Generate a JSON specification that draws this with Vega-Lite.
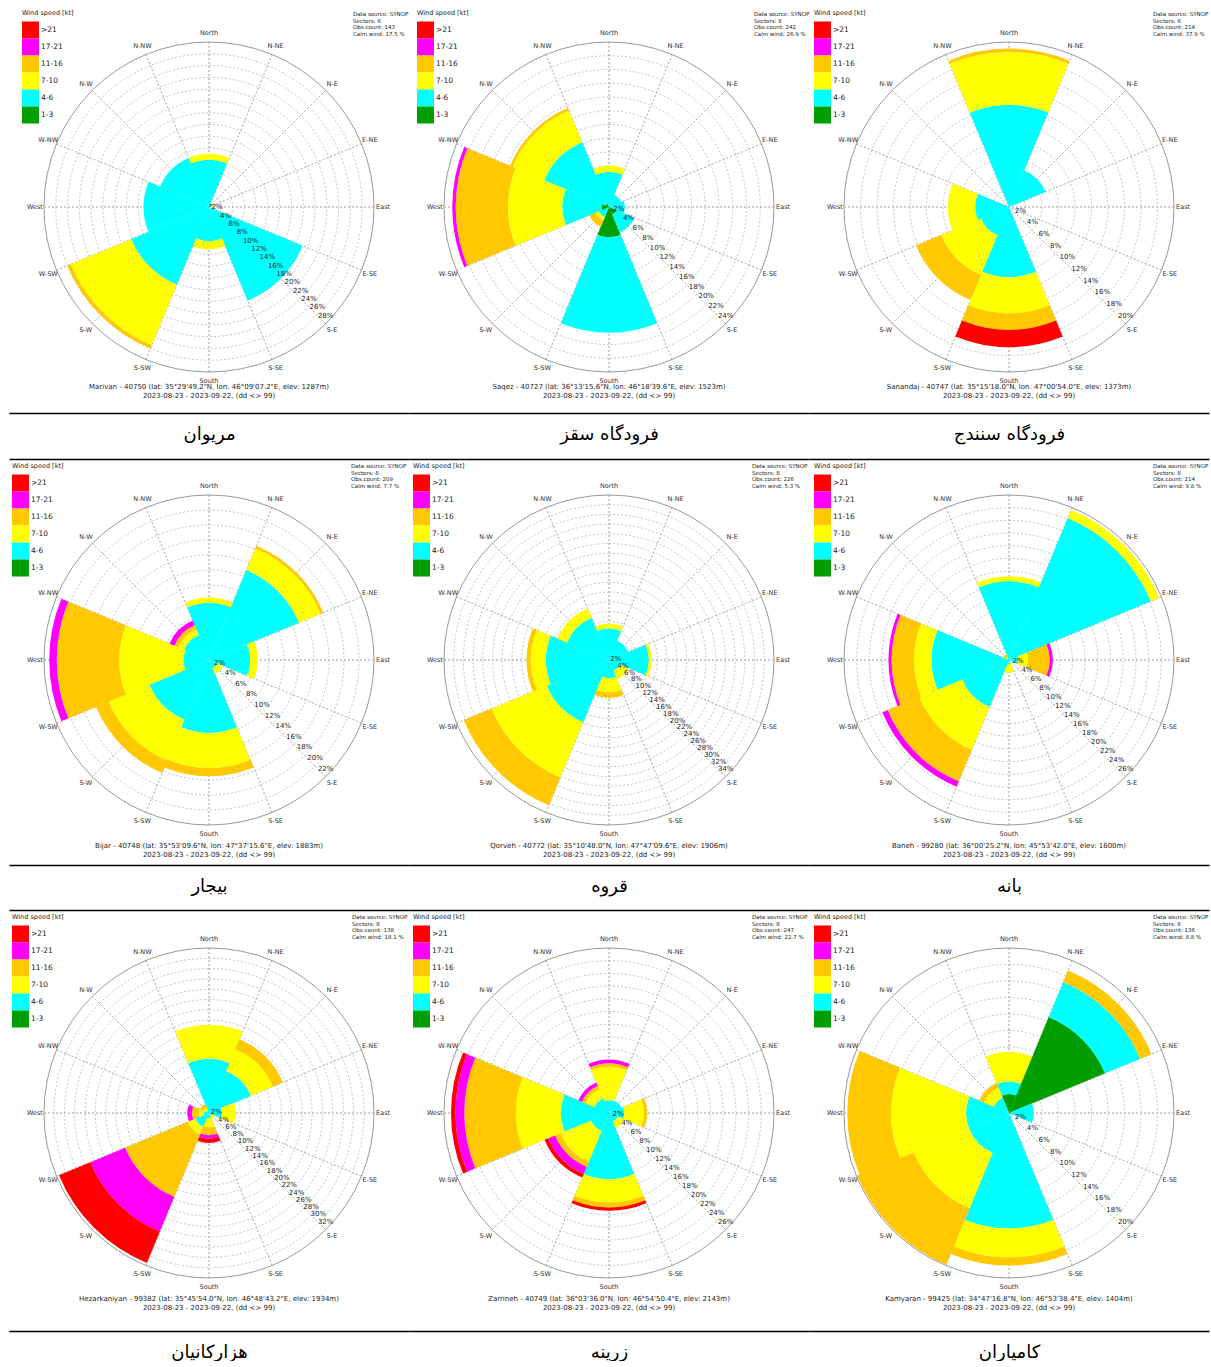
{
"$schema":"https://vega.github.io/schema/vega-lite/v6.json",
"background":"white",
"padding":{"left":9,"top":7,"right":2,"bottom":0},
"config":{"view":{"stroke":null},"font":"DejaVu Sans"},
"datasets":{
"rings":[{"v":2,"t":"2%"},{"v":4,"t":"4%"},{"v":6,"t":"6%"},{"v":8,"t":"8%"},{"v":10,"t":"10%"},{"v":12,"t":"12%"},{"v":14,"t":"14%"},{"v":16,"t":"16%"},{"v":18,"t":"18%"},{"v":20,"t":"20%"},{"v":22,"t":"22%"},{"v":24,"t":"24%"},{"v":26,"t":"26%"},{"v":28,"t":"28%"},{"v":30,"t":"30%"},{"v":32,"t":"32%"},{"v":34,"t":"34%"}],
"dirs":[{"a":0,"lab":"North"},{"a":22.5,"lab":"N-NE"},{"a":45,"lab":"N-E"},{"a":67.5,"lab":"E-NE"},{"a":90,"lab":"East"},{"a":112.5,"lab":"E-SE"},{"a":135,"lab":"S-E"},{"a":157.5,"lab":"S-SE"},{"a":180,"lab":"South"},{"a":202.5,"lab":"S-SW"},{"a":225,"lab":"S-W"},{"a":247.5,"lab":"W-SW"},{"a":270,"lab":"West"},{"a":292.5,"lab":"W-NW"},{"a":315,"lab":"N-W"},{"a":337.5,"lab":"N-NW"}],
"marivan":[{"d":0,"sp":"4-6","lo":4,"p":8.0},{"d":0,"sp":"7-10","lo":7,"p":1.0},{"d":45,"sp":"1-3","lo":1,"p":0.6},{"d":135,"sp":"4-6","lo":4,"p":17.2},{"d":180,"sp":"4-6","lo":4,"p":5.8},{"d":180,"sp":"7-10","lo":7,"p":1.4},{"d":225,"sp":"4-6","lo":4,"p":14.3},{"d":225,"sp":"7-10","lo":7,"p":11.1},{"d":225,"sp":"11-16","lo":11,"p":0.6},{"d":270,"sp":"4-6","lo":4,"p":11.1},{"d":315,"sp":"4-6","lo":4,"p":9.0}],
"saqez":[{"d":0,"sp":"4-6","lo":4,"p":5.1},{"d":0,"sp":"7-10","lo":7,"p":0.9},{"d":45,"sp":"4-6","lo":4,"p":1.9},{"d":90,"sp":"4-6","lo":4,"p":2.3},{"d":135,"sp":"1-3","lo":1,"p":1.2},{"d":135,"sp":"4-6","lo":4,"p":2.8},{"d":180,"sp":"1-3","lo":1,"p":4.4},{"d":180,"sp":"4-6","lo":4,"p":13.9},{"d":225,"sp":"4-6","lo":4,"p":1.6},{"d":225,"sp":"7-10","lo":7,"p":0.5},{"d":225,"sp":"11-16","lo":11,"p":1.0},{"d":270,"sp":"1-3","lo":1,"p":1.1},{"d":270,"sp":"4-6","lo":4,"p":5.7},{"d":270,"sp":"7-10","lo":7,"p":7.9},{"d":270,"sp":"11-16","lo":11,"p":7.6},{"d":270,"sp":"17-21","lo":17,"p":0.5},{"d":315,"sp":"1-3","lo":1,"p":0.5},{"d":315,"sp":"4-6","lo":4,"p":9.7},{"d":315,"sp":"7-10","lo":7,"p":5.0},{"d":315,"sp":"11-16","lo":11,"p":0.4}],
"sanandaj":[{"d":0,"sp":"4-6","lo":4,"p":12.4},{"d":0,"sp":"7-10","lo":7,"p":6.4},{"d":0,"sp":"11-16","lo":11,"p":0.4},{"d":45,"sp":"4-6","lo":4,"p":4.8},{"d":180,"sp":"4-6","lo":4,"p":8.5},{"d":180,"sp":"7-10","lo":7,"p":4.4},{"d":180,"sp":"11-16","lo":11,"p":2.0},{"d":180,"sp":">21","lo":22,"p":2.1},{"d":225,"sp":"4-6","lo":4,"p":3.7},{"d":225,"sp":"7-10","lo":7,"p":5.2},{"d":225,"sp":"11-16","lo":11,"p":3.3},{"d":270,"sp":"4-6","lo":4,"p":4.1},{"d":270,"sp":"7-10","lo":7,"p":3.3}],
"bijar":[{"d":0,"sp":"4-6","lo":4,"p":7.6},{"d":0,"sp":"7-10","lo":7,"p":0.7},{"d":45,"sp":"4-6","lo":4,"p":13.0},{"d":45,"sp":"7-10","lo":7,"p":3.1},{"d":45,"sp":"11-16","lo":11,"p":0.4},{"d":90,"sp":"4-6","lo":4,"p":5.5},{"d":90,"sp":"7-10","lo":7,"p":1.0},{"d":135,"sp":"4-6","lo":4,"p":1.2},{"d":135,"sp":"7-10","lo":7,"p":0.8},{"d":180,"sp":"4-6","lo":4,"p":9.7},{"d":180,"sp":"7-10","lo":7,"p":4.7},{"d":180,"sp":"11-16","lo":11,"p":1.1},{"d":225,"sp":"4-6","lo":4,"p":8.6},{"d":225,"sp":"7-10","lo":7,"p":5.9},{"d":225,"sp":"11-16","lo":11,"p":1.8},{"d":270,"sp":"4-6","lo":4,"p":3.4},{"d":270,"sp":"7-10","lo":7,"p":8.6},{"d":270,"sp":"11-16","lo":11,"p":8.3},{"d":270,"sp":"17-21","lo":17,"p":1.0},{"d":315,"sp":"4-6","lo":4,"p":3.6},{"d":315,"sp":"7-10","lo":7,"p":0.8},{"d":315,"sp":"11-16","lo":11,"p":0.6},{"d":315,"sp":"17-21","lo":17,"p":0.7}],
"qorveh":[{"d":0,"sp":"1-3","lo":1,"p":0.3},{"d":0,"sp":"4-6","lo":4,"p":6.2},{"d":0,"sp":"7-10","lo":7,"p":1.0},{"d":45,"sp":"4-6","lo":4,"p":4.3},{"d":90,"sp":"4-6","lo":4,"p":8.2},{"d":90,"sp":"7-10","lo":7,"p":0.6},{"d":135,"sp":"4-6","lo":4,"p":2.4},{"d":135,"sp":"7-10","lo":7,"p":1.9},{"d":180,"sp":"4-6","lo":4,"p":3.8},{"d":180,"sp":"7-10","lo":7,"p":2.9},{"d":180,"sp":"11-16","lo":11,"p":1.1},{"d":225,"sp":"4-6","lo":4,"p":13.9},{"d":225,"sp":"7-10","lo":7,"p":12.3},{"d":225,"sp":"11-16","lo":11,"p":6.2},{"d":270,"sp":"4-6","lo":4,"p":13.0},{"d":270,"sp":"7-10","lo":7,"p":3.1},{"d":270,"sp":"11-16","lo":11,"p":0.9},{"d":315,"sp":"4-6","lo":4,"p":9.4},{"d":315,"sp":"7-10","lo":7,"p":2.1}],
"baneh":[{"d":0,"sp":"4-6","lo":4,"p":12.4},{"d":0,"sp":"7-10","lo":7,"p":0.8},{"d":45,"sp":"4-6","lo":4,"p":24.2},{"d":45,"sp":"7-10","lo":7,"p":1.4},{"d":90,"sp":"4-6","lo":4,"p":1.5},{"d":90,"sp":"7-10","lo":7,"p":1.5},{"d":90,"sp":"11-16","lo":11,"p":3.4},{"d":90,"sp":"17-21","lo":17,"p":0.5},{"d":180,"sp":"4-6","lo":4,"p":0.6},{"d":180,"sp":"7-10","lo":7,"p":1.4},{"d":225,"sp":"4-6","lo":4,"p":8.0},{"d":225,"sp":"7-10","lo":7,"p":7.3},{"d":225,"sp":"11-16","lo":11,"p":5.4},{"d":225,"sp":"17-21","lo":17,"p":0.9},{"d":270,"sp":"4-6","lo":4,"p":12.2},{"d":270,"sp":"7-10","lo":7,"p":2.8},{"d":270,"sp":"11-16","lo":11,"p":3.5},{"d":270,"sp":"17-21","lo":17,"p":0.5},{"d":315,"sp":"4-6","lo":4,"p":0.3},{"d":315,"sp":"7-10","lo":7,"p":0.3},{"d":315,"sp":"11-16","lo":11,"p":0.4}],
"hezarkaniyan":[{"d":0,"sp":"4-6","lo":4,"p":10.5},{"d":0,"sp":"7-10","lo":7,"p":6.6},{"d":45,"sp":"4-6","lo":4,"p":8.8},{"d":45,"sp":"7-10","lo":7,"p":4.6},{"d":45,"sp":"11-16","lo":11,"p":2.1},{"d":90,"sp":"4-6","lo":4,"p":2.5},{"d":90,"sp":"7-10","lo":7,"p":2.7},{"d":135,"sp":"4-6","lo":4,"p":0.5},{"d":135,"sp":"7-10","lo":7,"p":0.8},{"d":180,"sp":"4-6","lo":4,"p":1.0},{"d":180,"sp":"7-10","lo":7,"p":1.8},{"d":180,"sp":"11-16","lo":11,"p":1.5},{"d":180,"sp":"17-21","lo":17,"p":0.7},{"d":180,"sp":">21","lo":22,"p":0.8},{"d":225,"sp":"4-6","lo":4,"p":2.9},{"d":225,"sp":"7-10","lo":7,"p":1.6},{"d":225,"sp":"11-16","lo":11,"p":13.1},{"d":225,"sp":"17-21","lo":17,"p":7.3},{"d":225,"sp":">21","lo":22,"p":6.6},{"d":270,"sp":"4-6","lo":4,"p":1.0},{"d":270,"sp":"7-10","lo":7,"p":1.0},{"d":270,"sp":"11-16","lo":11,"p":1.3},{"d":270,"sp":"17-21","lo":17,"p":0.9},{"d":315,"sp":"4-6","lo":4,"p":0.5},{"d":315,"sp":"7-10","lo":7,"p":0.7},{"d":315,"sp":"11-16","lo":11,"p":0.7}],
"zarrineh":[{"d":0,"sp":"4-6","lo":4,"p":2.0},{"d":0,"sp":"7-10","lo":7,"p":5.3},{"d":0,"sp":"11-16","lo":11,"p":0.5},{"d":0,"sp":"17-21","lo":17,"p":0.6},{"d":45,"sp":"4-6","lo":4,"p":2.1},{"d":90,"sp":"4-6","lo":4,"p":2.4},{"d":90,"sp":"7-10","lo":7,"p":3.1},{"d":90,"sp":"11-16","lo":11,"p":0.5},{"d":135,"sp":"4-6","lo":4,"p":1.5},{"d":135,"sp":"7-10","lo":7,"p":1.1},{"d":180,"sp":"4-6","lo":4,"p":10.4},{"d":180,"sp":"7-10","lo":7,"p":3.7},{"d":180,"sp":"11-16","lo":11,"p":0.8},{"d":180,"sp":">21","lo":22,"p":0.5},{"d":225,"sp":"4-6","lo":4,"p":3.1},{"d":225,"sp":"7-10","lo":7,"p":5.2},{"d":225,"sp":"11-16","lo":11,"p":0.9},{"d":225,"sp":"17-21","lo":17,"p":1.2},{"d":225,"sp":">21","lo":22,"p":0.6},{"d":270,"sp":"1-3","lo":1,"p":0.3},{"d":270,"sp":"4-6","lo":4,"p":7.3},{"d":270,"sp":"7-10","lo":7,"p":7.1},{"d":270,"sp":"11-16","lo":11,"p":8.1},{"d":270,"sp":"17-21","lo":17,"p":1.4},{"d":270,"sp":">21","lo":22,"p":0.7},{"d":315,"sp":"4-6","lo":4,"p":2.5},{"d":315,"sp":"7-10","lo":7,"p":1.5},{"d":315,"sp":"11-16","lo":11,"p":0.6},{"d":315,"sp":"17-21","lo":17,"p":0.6}],
"kamyaran":[{"d":0,"sp":"1-3","lo":1,"p":2.3},{"d":0,"sp":"4-6","lo":4,"p":1.5},{"d":0,"sp":"7-10","lo":7,"p":3.6},{"d":45,"sp":"1-3","lo":1,"p":12.6},{"d":45,"sp":"4-6","lo":4,"p":4.6},{"d":45,"sp":"11-16","lo":11,"p":1.5},{"d":90,"sp":"1-3","lo":1,"p":0.3},{"d":90,"sp":"4-6","lo":4,"p":2.7},{"d":180,"sp":"4-6","lo":4,"p":14.0},{"d":180,"sp":"7-10","lo":7,"p":3.5},{"d":180,"sp":"11-16","lo":11,"p":1.0},{"d":225,"sp":"4-6","lo":4,"p":5.2},{"d":225,"sp":"7-10","lo":7,"p":7.3},{"d":225,"sp":"11-16","lo":11,"p":7.4},{"d":270,"sp":"4-6","lo":4,"p":5.2},{"d":270,"sp":"7-10","lo":7,"p":9.1},{"d":270,"sp":"11-16","lo":11,"p":5.3},{"d":315,"sp":"4-6","lo":4,"p":2.0},{"d":315,"sp":"7-10","lo":7,"p":1.3},{"d":315,"sp":"11-16","lo":11,"p":0.6}]
},
"columns":3,
"spacing":{"row":53,"column":0},
"bounds":"flush",
"resolve":{"scale":{"color":"independent","radius":"independent","theta":"independent","x":"independent","y":"independent"},"legend":{"color":"independent"},"axis":{"x":"independent","y":"independent"}},
"concat":[
{"width":400,"height":400,"layer":[
{"data":{"name":"rings"},"transform":[{"filter":"datum.v < 28"}],"mark":{"type":"arc","theta":0,"theta2":6.2832,"filled":false,"stroke":"#aaaaaa","strokeWidth":0.7,"strokeDash":[2,2]},"encoding":{"radius":{"field":"v","type":"quantitative","stack":null,"scale":{"type":"linear","domain":[0,28],"range":[0,165],"zero":true,"nice":false}}}},
{"data":{"name":"dirs"},"mark":{"type":"arc","filled":false,"stroke":"#aaaaaa","strokeWidth":0.7,"strokeDash":[2,2]},"encoding":{"theta":{"field":"a","type":"quantitative","stack":null,"scale":{"type":"linear","domain":[0,360],"range":[0,6.283185307179586],"zero":true,"nice":false}},"theta2":{"field":"a"},"radius":{"datum":28,"type":"quantitative","scale":{"type":"linear","domain":[0,28],"range":[0,165],"zero":true,"nice":false}}}},
{"data":{"name":"marivan"},"transform":[{"stack":"p","groupby":["d"],"sort":[{"field":"lo","order":"ascending"}],"as":["r0","r1"]}],"mark":{"type":"arc","thetaOffset":-0.3927,"theta2Offset":0.3927},"encoding":{"theta":{"field":"d","type":"quantitative","stack":null,"scale":{"type":"linear","domain":[0,360],"range":[0,6.283185307179586],"zero":true,"nice":false}},"theta2":{"field":"d"},"radius":{"field":"r1","type":"quantitative","stack":null,"scale":{"type":"linear","domain":[0,28],"range":[0,165],"zero":true,"nice":false}},"radius2":{"field":"r0"},"color":{"field":"sp","type":"nominal","scale":{"domain":[">21","17-21","11-16","7-10","4-6","1-3"],"range":["#ff0000","#ff00ff","#ffc800","#ffff00","#00ffff","#009e00"]},"legend":{"title":"Wind speed [kt]","orient":"none","legendX":13,"legendY":3,"symbolType":"square","symbolSize":289,"symbolStrokeWidth":0,"symbolOpacity":1,"rowPadding":0,"labelFont":"DejaVu Sans","labelFontSize":7.5,"labelColor":"#222222","labelOffset":2,"titleFont":"DejaVu Sans","titleFontSize":6.5,"titleFontWeight":"normal","titleColor":"#222222","titlePadding":5}}}},
{"data":{"values":[{}]},"mark":{"type":"arc","theta":0,"theta2":6.2832,"filled":false,"stroke":"#999999","strokeWidth":1},"encoding":{"radius":{"datum":28,"type":"quantitative","scale":{"type":"linear","domain":[0,28],"range":[0,165],"zero":true,"nice":false}}}},
{"data":{"name":"dirs"},"mark":{"type":"text","font":"DejaVu Sans","fontSize":6.5,"color":"#333333"},"encoding":{"theta":{"field":"a","type":"quantitative","stack":null,"scale":{"type":"linear","domain":[0,360],"range":[0,6.283185307179586],"zero":true,"nice":false}},"radius":{"datum":29.54,"type":"quantitative","scale":{"type":"linear","domain":[0,28],"range":[0,165],"zero":true,"nice":false}},"text":{"field":"lab","type":"nominal"}}},
{"data":{"name":"rings"},"transform":[{"filter":"datum.v <= 28"}],"mark":{"type":"text","font":"DejaVu Sans","fontSize":7,"dy":-8,"color":"#222222"},"encoding":{"theta":{"datum":135,"type":"quantitative","scale":{"type":"linear","domain":[0,360],"range":[0,6.283185307179586],"zero":true,"nice":false}},"radius":{"field":"v","type":"quantitative","stack":null,"scale":{"type":"linear","domain":[0,28],"range":[0,165],"zero":true,"nice":false}},"text":{"field":"t","type":"nominal"}}},
{"data":{"values":[{}]},"mark":{"type":"text","text":"Data source: SYNOP\nSectors: 8\nObs.count: 143\nCalm wind: 17.5 %","lineBreak":"\n","align":"left","baseline":"top","font":"DejaVu Sans","fontSize":5.5,"lineHeight":6.7,"dx":-56,"dy":5,"color":"#222222"},"encoding":{"x":{"datum":1,"type":"quantitative","scale":{"domain":[0,1],"nice":false,"zero":false},"axis":{"orient":"bottom","offset":6,"domain":true,"domainColor":"#000000","domainWidth":1.5,"ticks":false,"labels":false,"grid":false,"title":"مریوان","titleFont":"DejaVu Sans","titleFontSize":18,"titleFontWeight":"normal","titleColor":"#000000","titlePadding":12}},"y":{"datum":1,"type":"quantitative","scale":{"domain":[0,1],"nice":false,"zero":false},"axis":null}}},
{"data":{"values":[{}]},"mark":{"type":"text","text":"Marivan - 40750 (lat: 35°29'49.2\"N, lon: 46°09'07.2\"E, elev: 1287m)\n2023-08-23 - 2023-09-22, (dd <> 99)","lineBreak":"\n","align":"center","baseline":"top","font":"DejaVu Sans","fontSize":7,"lineHeight":9,"dy":-24,"color":"#222222"},"encoding":{"x":{"datum":0.5,"type":"quantitative"},"y":{"datum":0,"type":"quantitative"}}}
]},
{"width":400,"height":400,"layer":[
{"data":{"name":"rings"},"transform":[{"filter":"datum.v < 24"}],"mark":{"type":"arc","theta":0,"theta2":6.2832,"filled":false,"stroke":"#aaaaaa","strokeWidth":0.7,"strokeDash":[2,2]},"encoding":{"radius":{"field":"v","type":"quantitative","stack":null,"scale":{"type":"linear","domain":[0,24],"range":[0,165],"zero":true,"nice":false}}}},
{"data":{"name":"dirs"},"mark":{"type":"arc","filled":false,"stroke":"#aaaaaa","strokeWidth":0.7,"strokeDash":[2,2]},"encoding":{"theta":{"field":"a","type":"quantitative","stack":null,"scale":{"type":"linear","domain":[0,360],"range":[0,6.283185307179586],"zero":true,"nice":false}},"theta2":{"field":"a"},"radius":{"datum":24,"type":"quantitative","scale":{"type":"linear","domain":[0,24],"range":[0,165],"zero":true,"nice":false}}}},
{"data":{"name":"saqez"},"transform":[{"stack":"p","groupby":["d"],"sort":[{"field":"lo","order":"ascending"}],"as":["r0","r1"]}],"mark":{"type":"arc","thetaOffset":-0.3927,"theta2Offset":0.3927},"encoding":{"theta":{"field":"d","type":"quantitative","stack":null,"scale":{"type":"linear","domain":[0,360],"range":[0,6.283185307179586],"zero":true,"nice":false}},"theta2":{"field":"d"},"radius":{"field":"r1","type":"quantitative","stack":null,"scale":{"type":"linear","domain":[0,24],"range":[0,165],"zero":true,"nice":false}},"radius2":{"field":"r0"},"color":{"field":"sp","type":"nominal","scale":{"domain":[">21","17-21","11-16","7-10","4-6","1-3"],"range":["#ff0000","#ff00ff","#ffc800","#ffff00","#00ffff","#009e00"]},"legend":{"title":"Wind speed [kt]","orient":"none","legendX":8,"legendY":3,"symbolType":"square","symbolSize":289,"symbolStrokeWidth":0,"symbolOpacity":1,"rowPadding":0,"labelFont":"DejaVu Sans","labelFontSize":7.5,"labelColor":"#222222","labelOffset":2,"titleFont":"DejaVu Sans","titleFontSize":6.5,"titleFontWeight":"normal","titleColor":"#222222","titlePadding":5}}}},
{"data":{"values":[{}]},"mark":{"type":"arc","theta":0,"theta2":6.2832,"filled":false,"stroke":"#999999","strokeWidth":1},"encoding":{"radius":{"datum":24,"type":"quantitative","scale":{"type":"linear","domain":[0,24],"range":[0,165],"zero":true,"nice":false}}}},
{"data":{"name":"dirs"},"mark":{"type":"text","font":"DejaVu Sans","fontSize":6.5,"color":"#333333"},"encoding":{"theta":{"field":"a","type":"quantitative","stack":null,"scale":{"type":"linear","domain":[0,360],"range":[0,6.283185307179586],"zero":true,"nice":false}},"radius":{"datum":25.32,"type":"quantitative","scale":{"type":"linear","domain":[0,24],"range":[0,165],"zero":true,"nice":false}},"text":{"field":"lab","type":"nominal"}}},
{"data":{"name":"rings"},"transform":[{"filter":"datum.v <= 24"}],"mark":{"type":"text","font":"DejaVu Sans","fontSize":7,"dy":-8,"color":"#222222"},"encoding":{"theta":{"datum":135,"type":"quantitative","scale":{"type":"linear","domain":[0,360],"range":[0,6.283185307179586],"zero":true,"nice":false}},"radius":{"field":"v","type":"quantitative","stack":null,"scale":{"type":"linear","domain":[0,24],"range":[0,165],"zero":true,"nice":false}},"text":{"field":"t","type":"nominal"}}},
{"data":{"values":[{}]},"mark":{"type":"text","text":"Data source: SYNOP\nSectors: 8\nObs.count: 242\nCalm wind: 26.9 %","lineBreak":"\n","align":"left","baseline":"top","font":"DejaVu Sans","fontSize":5.5,"lineHeight":6.7,"dx":-55,"dy":5,"color":"#222222"},"encoding":{"x":{"datum":1,"type":"quantitative","scale":{"domain":[0,1],"nice":false,"zero":false},"axis":{"orient":"bottom","offset":6,"domain":true,"domainColor":"#000000","domainWidth":1.5,"ticks":false,"labels":false,"grid":false,"title":"فرودگاه سقز","titleFont":"DejaVu Sans","titleFontSize":18,"titleFontWeight":"normal","titleColor":"#000000","titlePadding":12}},"y":{"datum":1,"type":"quantitative","scale":{"domain":[0,1],"nice":false,"zero":false},"axis":null}}},
{"data":{"values":[{}]},"mark":{"type":"text","text":"Saqez - 40727 (lat: 36°13'15.6\"N, lon: 46°18'39.6\"E, elev: 1523m)\n2023-08-23 - 2023-09-22, (dd <> 99)","lineBreak":"\n","align":"center","baseline":"top","font":"DejaVu Sans","fontSize":7,"lineHeight":9,"dy":-24,"color":"#222222"},"encoding":{"x":{"datum":0.5,"type":"quantitative"},"y":{"datum":0,"type":"quantitative"}}}
]},
{"width":400,"height":400,"layer":[
{"data":{"name":"rings"},"transform":[{"filter":"datum.v < 20"}],"mark":{"type":"arc","theta":0,"theta2":6.2832,"filled":false,"stroke":"#aaaaaa","strokeWidth":0.7,"strokeDash":[2,2]},"encoding":{"radius":{"field":"v","type":"quantitative","stack":null,"scale":{"type":"linear","domain":[0,20],"range":[0,165],"zero":true,"nice":false}}}},
{"data":{"name":"dirs"},"mark":{"type":"arc","filled":false,"stroke":"#aaaaaa","strokeWidth":0.7,"strokeDash":[2,2]},"encoding":{"theta":{"field":"a","type":"quantitative","stack":null,"scale":{"type":"linear","domain":[0,360],"range":[0,6.283185307179586],"zero":true,"nice":false}},"theta2":{"field":"a"},"radius":{"datum":20,"type":"quantitative","scale":{"type":"linear","domain":[0,20],"range":[0,165],"zero":true,"nice":false}}}},
{"data":{"name":"sanandaj"},"transform":[{"stack":"p","groupby":["d"],"sort":[{"field":"lo","order":"ascending"}],"as":["r0","r1"]}],"mark":{"type":"arc","thetaOffset":-0.3927,"theta2Offset":0.3927},"encoding":{"theta":{"field":"d","type":"quantitative","stack":null,"scale":{"type":"linear","domain":[0,360],"range":[0,6.283185307179586],"zero":true,"nice":false}},"theta2":{"field":"d"},"radius":{"field":"r1","type":"quantitative","stack":null,"scale":{"type":"linear","domain":[0,20],"range":[0,165],"zero":true,"nice":false}},"radius2":{"field":"r0"},"color":{"field":"sp","type":"nominal","scale":{"domain":[">21","17-21","11-16","7-10","4-6","1-3"],"range":["#ff0000","#ff00ff","#ffc800","#ffff00","#00ffff","#009e00"]},"legend":{"title":"Wind speed [kt]","orient":"none","legendX":5,"legendY":3,"symbolType":"square","symbolSize":289,"symbolStrokeWidth":0,"symbolOpacity":1,"rowPadding":0,"labelFont":"DejaVu Sans","labelFontSize":7.5,"labelColor":"#222222","labelOffset":2,"titleFont":"DejaVu Sans","titleFontSize":6.5,"titleFontWeight":"normal","titleColor":"#222222","titlePadding":5}}}},
{"data":{"values":[{}]},"mark":{"type":"arc","theta":0,"theta2":6.2832,"filled":false,"stroke":"#999999","strokeWidth":1},"encoding":{"radius":{"datum":20,"type":"quantitative","scale":{"type":"linear","domain":[0,20],"range":[0,165],"zero":true,"nice":false}}}},
{"data":{"name":"dirs"},"mark":{"type":"text","font":"DejaVu Sans","fontSize":6.5,"color":"#333333"},"encoding":{"theta":{"field":"a","type":"quantitative","stack":null,"scale":{"type":"linear","domain":[0,360],"range":[0,6.283185307179586],"zero":true,"nice":false}},"radius":{"datum":21.1,"type":"quantitative","scale":{"type":"linear","domain":[0,20],"range":[0,165],"zero":true,"nice":false}},"text":{"field":"lab","type":"nominal"}}},
{"data":{"name":"rings"},"transform":[{"filter":"datum.v <= 20"}],"mark":{"type":"text","font":"DejaVu Sans","fontSize":7,"dy":-8,"color":"#222222"},"encoding":{"theta":{"datum":135,"type":"quantitative","scale":{"type":"linear","domain":[0,360],"range":[0,6.283185307179586],"zero":true,"nice":false}},"radius":{"field":"v","type":"quantitative","stack":null,"scale":{"type":"linear","domain":[0,20],"range":[0,165],"zero":true,"nice":false}},"text":{"field":"t","type":"nominal"}}},
{"data":{"values":[{}]},"mark":{"type":"text","text":"Data source: SYNOP\nSectors: 8\nObs.count: 214\nCalm wind: 37.9 %","lineBreak":"\n","align":"left","baseline":"top","font":"DejaVu Sans","fontSize":5.5,"lineHeight":6.7,"dx":-56,"dy":5,"color":"#222222"},"encoding":{"x":{"datum":1,"type":"quantitative","scale":{"domain":[0,1],"nice":false,"zero":false},"axis":{"orient":"bottom","offset":6,"domain":true,"domainColor":"#000000","domainWidth":1.5,"ticks":false,"labels":false,"grid":false,"title":"فرودگاه سنندج","titleFont":"DejaVu Sans","titleFontSize":18,"titleFontWeight":"normal","titleColor":"#000000","titlePadding":12}},"y":{"datum":1,"type":"quantitative","scale":{"domain":[0,1],"nice":false,"zero":false},"axis":null}}},
{"data":{"values":[{}]},"mark":{"type":"text","text":"Sanandaj - 40747 (lat: 35°15'18.0\"N, lon: 47°00'54.0\"E, elev: 1373m)\n2023-08-23 - 2023-09-22, (dd <> 99)","lineBreak":"\n","align":"center","baseline":"top","font":"DejaVu Sans","fontSize":7,"lineHeight":9,"dy":-24,"color":"#222222"},"encoding":{"x":{"datum":0.5,"type":"quantitative"},"y":{"datum":0,"type":"quantitative"}}}
]},
{"width":400,"height":400,"resolve":{"scale":{"x":"independent"},"axis":{"x":"independent"}},"layer":[
{"data":{"name":"rings"},"transform":[{"filter":"datum.v < 22"}],"mark":{"type":"arc","theta":0,"theta2":6.2832,"filled":false,"stroke":"#aaaaaa","strokeWidth":0.7,"strokeDash":[2,2]},"encoding":{"radius":{"field":"v","type":"quantitative","stack":null,"scale":{"type":"linear","domain":[0,22],"range":[0,165],"zero":true,"nice":false}}}},
{"data":{"name":"dirs"},"mark":{"type":"arc","filled":false,"stroke":"#aaaaaa","strokeWidth":0.7,"strokeDash":[2,2]},"encoding":{"theta":{"field":"a","type":"quantitative","stack":null,"scale":{"type":"linear","domain":[0,360],"range":[0,6.283185307179586],"zero":true,"nice":false}},"theta2":{"field":"a"},"radius":{"datum":22,"type":"quantitative","scale":{"type":"linear","domain":[0,22],"range":[0,165],"zero":true,"nice":false}}}},
{"data":{"name":"bijar"},"transform":[{"stack":"p","groupby":["d"],"sort":[{"field":"lo","order":"ascending"}],"as":["r0","r1"]}],"mark":{"type":"arc","thetaOffset":-0.3927,"theta2Offset":0.3927},"encoding":{"theta":{"field":"d","type":"quantitative","stack":null,"scale":{"type":"linear","domain":[0,360],"range":[0,6.283185307179586],"zero":true,"nice":false}},"theta2":{"field":"d"},"radius":{"field":"r1","type":"quantitative","stack":null,"scale":{"type":"linear","domain":[0,22],"range":[0,165],"zero":true,"nice":false}},"radius2":{"field":"r0"},"color":{"field":"sp","type":"nominal","scale":{"domain":[">21","17-21","11-16","7-10","4-6","1-3"],"range":["#ff0000","#ff00ff","#ffc800","#ffff00","#00ffff","#009e00"]},"legend":{"title":"Wind speed [kt]","orient":"none","legendX":3,"legendY":3,"symbolType":"square","symbolSize":289,"symbolStrokeWidth":0,"symbolOpacity":1,"rowPadding":0,"labelFont":"DejaVu Sans","labelFontSize":7.5,"labelColor":"#222222","labelOffset":2,"titleFont":"DejaVu Sans","titleFontSize":6.5,"titleFontWeight":"normal","titleColor":"#222222","titlePadding":5}}}},
{"data":{"values":[{}]},"mark":{"type":"arc","theta":0,"theta2":6.2832,"filled":false,"stroke":"#999999","strokeWidth":1},"encoding":{"radius":{"datum":22,"type":"quantitative","scale":{"type":"linear","domain":[0,22],"range":[0,165],"zero":true,"nice":false}}}},
{"data":{"name":"dirs"},"mark":{"type":"text","font":"DejaVu Sans","fontSize":6.5,"color":"#333333"},"encoding":{"theta":{"field":"a","type":"quantitative","stack":null,"scale":{"type":"linear","domain":[0,360],"range":[0,6.283185307179586],"zero":true,"nice":false}},"radius":{"datum":23.21,"type":"quantitative","scale":{"type":"linear","domain":[0,22],"range":[0,165],"zero":true,"nice":false}},"text":{"field":"lab","type":"nominal"}}},
{"data":{"name":"rings"},"transform":[{"filter":"datum.v <= 22"}],"mark":{"type":"text","font":"DejaVu Sans","fontSize":7,"dy":-8,"color":"#222222"},"encoding":{"theta":{"datum":135,"type":"quantitative","scale":{"type":"linear","domain":[0,360],"range":[0,6.283185307179586],"zero":true,"nice":false}},"radius":{"field":"v","type":"quantitative","stack":null,"scale":{"type":"linear","domain":[0,22],"range":[0,165],"zero":true,"nice":false}},"text":{"field":"t","type":"nominal"}}},
{"data":{"values":[{}]},"mark":{"type":"text","text":"Data source: SYNOP\nSectors: 8\nObs.count: 209\nCalm wind: 7.7 %","lineBreak":"\n","align":"left","baseline":"top","font":"DejaVu Sans","fontSize":5.5,"lineHeight":6.7,"dx":-58,"dy":4,"color":"#222222"},"encoding":{"x":{"datum":1,"type":"quantitative","scale":{"domain":[0,1],"nice":false,"zero":false},"axis":{"orient":"bottom","offset":5,"domain":true,"domainColor":"#000000","domainWidth":1.5,"ticks":false,"labels":false,"grid":false,"title":"بیجار","titleFont":"DejaVu Sans","titleFontSize":18,"titleFontWeight":"normal","titleColor":"#000000","titlePadding":12}},"y":{"datum":1,"type":"quantitative","scale":{"domain":[0,1],"nice":false,"zero":false},"axis":null}}},
{"data":{"values":[{}]},"mark":{"type":"text","text":"Bijar - 40748 (lat: 35°53'09.6\"N, lon: 47°37'15.6\"E, elev: 1883m)\n2023-08-23 - 2023-09-22, (dd <> 99)","lineBreak":"\n","align":"center","baseline":"top","font":"DejaVu Sans","fontSize":7,"lineHeight":9,"dy":-18,"color":"#222222"},"encoding":{"x":{"datum":0.5,"type":"quantitative","scale":{"domain":[0,1],"nice":false,"zero":false},"axis":{"orient":"top","offset":1,"domain":true,"domainColor":"#000000","domainWidth":1.5,"ticks":false,"labels":false,"grid":false,"title":null}},"y":{"datum":0,"type":"quantitative"}}}
]},
{"width":400,"height":400,"resolve":{"scale":{"x":"independent"},"axis":{"x":"independent"}},"layer":[
{"data":{"name":"rings"},"transform":[{"filter":"datum.v < 34"}],"mark":{"type":"arc","theta":0,"theta2":6.2832,"filled":false,"stroke":"#aaaaaa","strokeWidth":0.7,"strokeDash":[2,2]},"encoding":{"radius":{"field":"v","type":"quantitative","stack":null,"scale":{"type":"linear","domain":[0,34],"range":[0,165],"zero":true,"nice":false}}}},
{"data":{"name":"dirs"},"mark":{"type":"arc","filled":false,"stroke":"#aaaaaa","strokeWidth":0.7,"strokeDash":[2,2]},"encoding":{"theta":{"field":"a","type":"quantitative","stack":null,"scale":{"type":"linear","domain":[0,360],"range":[0,6.283185307179586],"zero":true,"nice":false}},"theta2":{"field":"a"},"radius":{"datum":34,"type":"quantitative","scale":{"type":"linear","domain":[0,34],"range":[0,165],"zero":true,"nice":false}}}},
{"data":{"name":"qorveh"},"transform":[{"stack":"p","groupby":["d"],"sort":[{"field":"lo","order":"ascending"}],"as":["r0","r1"]}],"mark":{"type":"arc","thetaOffset":-0.3927,"theta2Offset":0.3927},"encoding":{"theta":{"field":"d","type":"quantitative","stack":null,"scale":{"type":"linear","domain":[0,360],"range":[0,6.283185307179586],"zero":true,"nice":false}},"theta2":{"field":"d"},"radius":{"field":"r1","type":"quantitative","stack":null,"scale":{"type":"linear","domain":[0,34],"range":[0,165],"zero":true,"nice":false}},"radius2":{"field":"r0"},"color":{"field":"sp","type":"nominal","scale":{"domain":[">21","17-21","11-16","7-10","4-6","1-3"],"range":["#ff0000","#ff00ff","#ffc800","#ffff00","#00ffff","#009e00"]},"legend":{"title":"Wind speed [kt]","orient":"none","legendX":4,"legendY":3,"symbolType":"square","symbolSize":289,"symbolStrokeWidth":0,"symbolOpacity":1,"rowPadding":0,"labelFont":"DejaVu Sans","labelFontSize":7.5,"labelColor":"#222222","labelOffset":2,"titleFont":"DejaVu Sans","titleFontSize":6.5,"titleFontWeight":"normal","titleColor":"#222222","titlePadding":5}}}},
{"data":{"values":[{}]},"mark":{"type":"arc","theta":0,"theta2":6.2832,"filled":false,"stroke":"#999999","strokeWidth":1},"encoding":{"radius":{"datum":34,"type":"quantitative","scale":{"type":"linear","domain":[0,34],"range":[0,165],"zero":true,"nice":false}}}},
{"data":{"name":"dirs"},"mark":{"type":"text","font":"DejaVu Sans","fontSize":6.5,"color":"#333333"},"encoding":{"theta":{"field":"a","type":"quantitative","stack":null,"scale":{"type":"linear","domain":[0,360],"range":[0,6.283185307179586],"zero":true,"nice":false}},"radius":{"datum":35.87,"type":"quantitative","scale":{"type":"linear","domain":[0,34],"range":[0,165],"zero":true,"nice":false}},"text":{"field":"lab","type":"nominal"}}},
{"data":{"name":"rings"},"transform":[{"filter":"datum.v <= 34"}],"mark":{"type":"text","font":"DejaVu Sans","fontSize":7,"dy":-8,"color":"#222222"},"encoding":{"theta":{"datum":135,"type":"quantitative","scale":{"type":"linear","domain":[0,360],"range":[0,6.283185307179586],"zero":true,"nice":false}},"radius":{"field":"v","type":"quantitative","stack":null,"scale":{"type":"linear","domain":[0,34],"range":[0,165],"zero":true,"nice":false}},"text":{"field":"t","type":"nominal"}}},
{"data":{"values":[{}]},"mark":{"type":"text","text":"Data source: SYNOP\nSectors: 8\nObs.count: 226\nCalm wind: 5.3 %","lineBreak":"\n","align":"left","baseline":"top","font":"DejaVu Sans","fontSize":5.5,"lineHeight":6.7,"dx":-57,"dy":4,"color":"#222222"},"encoding":{"x":{"datum":1,"type":"quantitative","scale":{"domain":[0,1],"nice":false,"zero":false},"axis":{"orient":"bottom","offset":5,"domain":true,"domainColor":"#000000","domainWidth":1.5,"ticks":false,"labels":false,"grid":false,"title":"قروه","titleFont":"DejaVu Sans","titleFontSize":18,"titleFontWeight":"normal","titleColor":"#000000","titlePadding":12}},"y":{"datum":1,"type":"quantitative","scale":{"domain":[0,1],"nice":false,"zero":false},"axis":null}}},
{"data":{"values":[{}]},"mark":{"type":"text","text":"Qorveh - 40772 (lat: 35°10'48.0\"N, lon: 47°47'09.6\"E, elev: 1906m)\n2023-08-23 - 2023-09-22, (dd <> 99)","lineBreak":"\n","align":"center","baseline":"top","font":"DejaVu Sans","fontSize":7,"lineHeight":9,"dy":-18,"color":"#222222"},"encoding":{"x":{"datum":0.5,"type":"quantitative","scale":{"domain":[0,1],"nice":false,"zero":false},"axis":{"orient":"top","offset":1,"domain":true,"domainColor":"#000000","domainWidth":1.5,"ticks":false,"labels":false,"grid":false,"title":null}},"y":{"datum":0,"type":"quantitative"}}}
]},
{"width":400,"height":400,"resolve":{"scale":{"x":"independent"},"axis":{"x":"independent"}},"layer":[
{"data":{"name":"rings"},"transform":[{"filter":"datum.v < 26"}],"mark":{"type":"arc","theta":0,"theta2":6.2832,"filled":false,"stroke":"#aaaaaa","strokeWidth":0.7,"strokeDash":[2,2]},"encoding":{"radius":{"field":"v","type":"quantitative","stack":null,"scale":{"type":"linear","domain":[0,26],"range":[0,165],"zero":true,"nice":false}}}},
{"data":{"name":"dirs"},"mark":{"type":"arc","filled":false,"stroke":"#aaaaaa","strokeWidth":0.7,"strokeDash":[2,2]},"encoding":{"theta":{"field":"a","type":"quantitative","stack":null,"scale":{"type":"linear","domain":[0,360],"range":[0,6.283185307179586],"zero":true,"nice":false}},"theta2":{"field":"a"},"radius":{"datum":26,"type":"quantitative","scale":{"type":"linear","domain":[0,26],"range":[0,165],"zero":true,"nice":false}}}},
{"data":{"name":"baneh"},"transform":[{"stack":"p","groupby":["d"],"sort":[{"field":"lo","order":"ascending"}],"as":["r0","r1"]}],"mark":{"type":"arc","thetaOffset":-0.3927,"theta2Offset":0.3927},"encoding":{"theta":{"field":"d","type":"quantitative","stack":null,"scale":{"type":"linear","domain":[0,360],"range":[0,6.283185307179586],"zero":true,"nice":false}},"theta2":{"field":"d"},"radius":{"field":"r1","type":"quantitative","stack":null,"scale":{"type":"linear","domain":[0,26],"range":[0,165],"zero":true,"nice":false}},"radius2":{"field":"r0"},"color":{"field":"sp","type":"nominal","scale":{"domain":[">21","17-21","11-16","7-10","4-6","1-3"],"range":["#ff0000","#ff00ff","#ffc800","#ffff00","#00ffff","#009e00"]},"legend":{"title":"Wind speed [kt]","orient":"none","legendX":5,"legendY":3,"symbolType":"square","symbolSize":289,"symbolStrokeWidth":0,"symbolOpacity":1,"rowPadding":0,"labelFont":"DejaVu Sans","labelFontSize":7.5,"labelColor":"#222222","labelOffset":2,"titleFont":"DejaVu Sans","titleFontSize":6.5,"titleFontWeight":"normal","titleColor":"#222222","titlePadding":5}}}},
{"data":{"values":[{}]},"mark":{"type":"arc","theta":0,"theta2":6.2832,"filled":false,"stroke":"#999999","strokeWidth":1},"encoding":{"radius":{"datum":26,"type":"quantitative","scale":{"type":"linear","domain":[0,26],"range":[0,165],"zero":true,"nice":false}}}},
{"data":{"name":"dirs"},"mark":{"type":"text","font":"DejaVu Sans","fontSize":6.5,"color":"#333333"},"encoding":{"theta":{"field":"a","type":"quantitative","stack":null,"scale":{"type":"linear","domain":[0,360],"range":[0,6.283185307179586],"zero":true,"nice":false}},"radius":{"datum":27.43,"type":"quantitative","scale":{"type":"linear","domain":[0,26],"range":[0,165],"zero":true,"nice":false}},"text":{"field":"lab","type":"nominal"}}},
{"data":{"name":"rings"},"transform":[{"filter":"datum.v <= 26"}],"mark":{"type":"text","font":"DejaVu Sans","fontSize":7,"dy":-8,"color":"#222222"},"encoding":{"theta":{"datum":135,"type":"quantitative","scale":{"type":"linear","domain":[0,360],"range":[0,6.283185307179586],"zero":true,"nice":false}},"radius":{"field":"v","type":"quantitative","stack":null,"scale":{"type":"linear","domain":[0,26],"range":[0,165],"zero":true,"nice":false}},"text":{"field":"t","type":"nominal"}}},
{"data":{"values":[{}]},"mark":{"type":"text","text":"Data source: SYNOP\nSectors: 8\nObs.count: 214\nCalm wind: 9.8 %","lineBreak":"\n","align":"left","baseline":"top","font":"DejaVu Sans","fontSize":5.5,"lineHeight":6.7,"dx":-56,"dy":4,"color":"#222222"},"encoding":{"x":{"datum":1,"type":"quantitative","scale":{"domain":[0,1],"nice":false,"zero":false},"axis":{"orient":"bottom","offset":5,"domain":true,"domainColor":"#000000","domainWidth":1.5,"ticks":false,"labels":false,"grid":false,"title":"بانه","titleFont":"DejaVu Sans","titleFontSize":18,"titleFontWeight":"normal","titleColor":"#000000","titlePadding":12}},"y":{"datum":1,"type":"quantitative","scale":{"domain":[0,1],"nice":false,"zero":false},"axis":null}}},
{"data":{"values":[{}]},"mark":{"type":"text","text":"Baneh - 99280 (lat: 36°00'25.2\"N, lon: 45°53'42.0\"E, elev: 1600m)\n2023-08-23 - 2023-09-22, (dd <> 99)","lineBreak":"\n","align":"center","baseline":"top","font":"DejaVu Sans","fontSize":7,"lineHeight":9,"dy":-18,"color":"#222222"},"encoding":{"x":{"datum":0.5,"type":"quantitative","scale":{"domain":[0,1],"nice":false,"zero":false},"axis":{"orient":"top","offset":1,"domain":true,"domainColor":"#000000","domainWidth":1.5,"ticks":false,"labels":false,"grid":false,"title":null}},"y":{"datum":0,"type":"quantitative"}}}
]},
{"width":400,"height":400,"resolve":{"scale":{"x":"independent"},"axis":{"x":"independent"}},"layer":[
{"data":{"name":"rings"},"transform":[{"filter":"datum.v < 32"}],"mark":{"type":"arc","theta":0,"theta2":6.2832,"filled":false,"stroke":"#aaaaaa","strokeWidth":0.7,"strokeDash":[2,2]},"encoding":{"radius":{"field":"v","type":"quantitative","stack":null,"scale":{"type":"linear","domain":[0,32],"range":[0,165],"zero":true,"nice":false}}}},
{"data":{"name":"dirs"},"mark":{"type":"arc","filled":false,"stroke":"#aaaaaa","strokeWidth":0.7,"strokeDash":[2,2]},"encoding":{"theta":{"field":"a","type":"quantitative","stack":null,"scale":{"type":"linear","domain":[0,360],"range":[0,6.283185307179586],"zero":true,"nice":false}},"theta2":{"field":"a"},"radius":{"datum":32,"type":"quantitative","scale":{"type":"linear","domain":[0,32],"range":[0,165],"zero":true,"nice":false}}}},
{"data":{"name":"hezarkaniyan"},"transform":[{"stack":"p","groupby":["d"],"sort":[{"field":"lo","order":"ascending"}],"as":["r0","r1"]}],"mark":{"type":"arc","thetaOffset":-0.3927,"theta2Offset":0.3927},"encoding":{"theta":{"field":"d","type":"quantitative","stack":null,"scale":{"type":"linear","domain":[0,360],"range":[0,6.283185307179586],"zero":true,"nice":false}},"theta2":{"field":"d"},"radius":{"field":"r1","type":"quantitative","stack":null,"scale":{"type":"linear","domain":[0,32],"range":[0,165],"zero":true,"nice":false}},"radius2":{"field":"r0"},"color":{"field":"sp","type":"nominal","scale":{"domain":[">21","17-21","11-16","7-10","4-6","1-3"],"range":["#ff0000","#ff00ff","#ffc800","#ffff00","#00ffff","#009e00"]},"legend":{"title":"Wind speed [kt]","orient":"none","legendX":3,"legendY":1,"symbolType":"square","symbolSize":289,"symbolStrokeWidth":0,"symbolOpacity":1,"rowPadding":0,"labelFont":"DejaVu Sans","labelFontSize":7.5,"labelColor":"#222222","labelOffset":2,"titleFont":"DejaVu Sans","titleFontSize":6.5,"titleFontWeight":"normal","titleColor":"#222222","titlePadding":5}}}},
{"data":{"values":[{}]},"mark":{"type":"arc","theta":0,"theta2":6.2832,"filled":false,"stroke":"#999999","strokeWidth":1},"encoding":{"radius":{"datum":32,"type":"quantitative","scale":{"type":"linear","domain":[0,32],"range":[0,165],"zero":true,"nice":false}}}},
{"data":{"name":"dirs"},"mark":{"type":"text","font":"DejaVu Sans","fontSize":6.5,"color":"#333333"},"encoding":{"theta":{"field":"a","type":"quantitative","stack":null,"scale":{"type":"linear","domain":[0,360],"range":[0,6.283185307179586],"zero":true,"nice":false}},"radius":{"datum":33.76,"type":"quantitative","scale":{"type":"linear","domain":[0,32],"range":[0,165],"zero":true,"nice":false}},"text":{"field":"lab","type":"nominal"}}},
{"data":{"name":"rings"},"transform":[{"filter":"datum.v <= 32"}],"mark":{"type":"text","font":"DejaVu Sans","fontSize":7,"dy":-8,"color":"#222222"},"encoding":{"theta":{"datum":135,"type":"quantitative","scale":{"type":"linear","domain":[0,360],"range":[0,6.283185307179586],"zero":true,"nice":false}},"radius":{"field":"v","type":"quantitative","stack":null,"scale":{"type":"linear","domain":[0,32],"range":[0,165],"zero":true,"nice":false}},"text":{"field":"t","type":"nominal"}}},
{"data":{"values":[{}]},"mark":{"type":"text","text":"Data source: SYNOP\nSectors: 8\nObs.count: 138\nCalm wind: 18.1 %","lineBreak":"\n","align":"left","baseline":"top","font":"DejaVu Sans","fontSize":5.5,"lineHeight":6.7,"dx":-57,"dy":2,"color":"#222222"},"encoding":{"x":{"datum":1,"type":"quantitative","scale":{"domain":[0,1],"nice":false,"zero":false},"axis":{"orient":"bottom","offset":18,"domain":true,"domainColor":"#000000","domainWidth":1.5,"ticks":false,"labels":false,"grid":false,"title":"هزارکانیان","titleFont":"DejaVu Sans","titleFontSize":18,"titleFontWeight":"normal","titleColor":"#000000","titlePadding":12}},"y":{"datum":1,"type":"quantitative","scale":{"domain":[0,1],"nice":false,"zero":false},"axis":null}}},
{"data":{"values":[{}]},"mark":{"type":"text","text":"Hezarkaniyan - 99382 (lat: 35°45'54.0\"N, lon: 46°48'43.2\"E, elev: 1934m)\n2023-08-23 - 2023-09-22, (dd <> 99)","lineBreak":"\n","align":"center","baseline":"top","font":"DejaVu Sans","fontSize":7,"lineHeight":9,"dy":-18,"color":"#222222"},"encoding":{"x":{"datum":0.5,"type":"quantitative","scale":{"domain":[0,1],"nice":false,"zero":false},"axis":{"orient":"top","offset":3,"domain":true,"domainColor":"#000000","domainWidth":1.5,"ticks":false,"labels":false,"grid":false,"title":null}},"y":{"datum":0,"type":"quantitative"}}}
]},
{"width":400,"height":400,"resolve":{"scale":{"x":"independent"},"axis":{"x":"independent"}},"layer":[
{"data":{"name":"rings"},"transform":[{"filter":"datum.v < 26"}],"mark":{"type":"arc","theta":0,"theta2":6.2832,"filled":false,"stroke":"#aaaaaa","strokeWidth":0.7,"strokeDash":[2,2]},"encoding":{"radius":{"field":"v","type":"quantitative","stack":null,"scale":{"type":"linear","domain":[0,26],"range":[0,165],"zero":true,"nice":false}}}},
{"data":{"name":"dirs"},"mark":{"type":"arc","filled":false,"stroke":"#aaaaaa","strokeWidth":0.7,"strokeDash":[2,2]},"encoding":{"theta":{"field":"a","type":"quantitative","stack":null,"scale":{"type":"linear","domain":[0,360],"range":[0,6.283185307179586],"zero":true,"nice":false}},"theta2":{"field":"a"},"radius":{"datum":26,"type":"quantitative","scale":{"type":"linear","domain":[0,26],"range":[0,165],"zero":true,"nice":false}}}},
{"data":{"name":"zarrineh"},"transform":[{"stack":"p","groupby":["d"],"sort":[{"field":"lo","order":"ascending"}],"as":["r0","r1"]}],"mark":{"type":"arc","thetaOffset":-0.3927,"theta2Offset":0.3927},"encoding":{"theta":{"field":"d","type":"quantitative","stack":null,"scale":{"type":"linear","domain":[0,360],"range":[0,6.283185307179586],"zero":true,"nice":false}},"theta2":{"field":"d"},"radius":{"field":"r1","type":"quantitative","stack":null,"scale":{"type":"linear","domain":[0,26],"range":[0,165],"zero":true,"nice":false}},"radius2":{"field":"r0"},"color":{"field":"sp","type":"nominal","scale":{"domain":[">21","17-21","11-16","7-10","4-6","1-3"],"range":["#ff0000","#ff00ff","#ffc800","#ffff00","#00ffff","#009e00"]},"legend":{"title":"Wind speed [kt]","orient":"none","legendX":4,"legendY":1,"symbolType":"square","symbolSize":289,"symbolStrokeWidth":0,"symbolOpacity":1,"rowPadding":0,"labelFont":"DejaVu Sans","labelFontSize":7.5,"labelColor":"#222222","labelOffset":2,"titleFont":"DejaVu Sans","titleFontSize":6.5,"titleFontWeight":"normal","titleColor":"#222222","titlePadding":5}}}},
{"data":{"values":[{}]},"mark":{"type":"arc","theta":0,"theta2":6.2832,"filled":false,"stroke":"#999999","strokeWidth":1},"encoding":{"radius":{"datum":26,"type":"quantitative","scale":{"type":"linear","domain":[0,26],"range":[0,165],"zero":true,"nice":false}}}},
{"data":{"name":"dirs"},"mark":{"type":"text","font":"DejaVu Sans","fontSize":6.5,"color":"#333333"},"encoding":{"theta":{"field":"a","type":"quantitative","stack":null,"scale":{"type":"linear","domain":[0,360],"range":[0,6.283185307179586],"zero":true,"nice":false}},"radius":{"datum":27.43,"type":"quantitative","scale":{"type":"linear","domain":[0,26],"range":[0,165],"zero":true,"nice":false}},"text":{"field":"lab","type":"nominal"}}},
{"data":{"name":"rings"},"transform":[{"filter":"datum.v <= 26"}],"mark":{"type":"text","font":"DejaVu Sans","fontSize":7,"dy":-8,"color":"#222222"},"encoding":{"theta":{"datum":135,"type":"quantitative","scale":{"type":"linear","domain":[0,360],"range":[0,6.283185307179586],"zero":true,"nice":false}},"radius":{"field":"v","type":"quantitative","stack":null,"scale":{"type":"linear","domain":[0,26],"range":[0,165],"zero":true,"nice":false}},"text":{"field":"t","type":"nominal"}}},
{"data":{"values":[{}]},"mark":{"type":"text","text":"Data source: SYNOP\nSectors: 8\nObs.count: 247\nCalm wind: 22.7 %","lineBreak":"\n","align":"left","baseline":"top","font":"DejaVu Sans","fontSize":5.5,"lineHeight":6.7,"dx":-57,"dy":2,"color":"#222222"},"encoding":{"x":{"datum":1,"type":"quantitative","scale":{"domain":[0,1],"nice":false,"zero":false},"axis":{"orient":"bottom","offset":18,"domain":true,"domainColor":"#000000","domainWidth":1.5,"ticks":false,"labels":false,"grid":false,"title":"زرینه","titleFont":"DejaVu Sans","titleFontSize":18,"titleFontWeight":"normal","titleColor":"#000000","titlePadding":12}},"y":{"datum":1,"type":"quantitative","scale":{"domain":[0,1],"nice":false,"zero":false},"axis":null}}},
{"data":{"values":[{}]},"mark":{"type":"text","text":"Zarrineh - 40749 (lat: 36°03'36.0\"N, lon: 46°54'50.4\"E, elev: 2143m)\n2023-08-23 - 2023-09-22, (dd <> 99)","lineBreak":"\n","align":"center","baseline":"top","font":"DejaVu Sans","fontSize":7,"lineHeight":9,"dy":-18,"color":"#222222"},"encoding":{"x":{"datum":0.5,"type":"quantitative","scale":{"domain":[0,1],"nice":false,"zero":false},"axis":{"orient":"top","offset":3,"domain":true,"domainColor":"#000000","domainWidth":1.5,"ticks":false,"labels":false,"grid":false,"title":null}},"y":{"datum":0,"type":"quantitative"}}}
]},
{"width":400,"height":400,"resolve":{"scale":{"x":"independent"},"axis":{"x":"independent"}},"layer":[
{"data":{"name":"rings"},"transform":[{"filter":"datum.v < 20"}],"mark":{"type":"arc","theta":0,"theta2":6.2832,"filled":false,"stroke":"#aaaaaa","strokeWidth":0.7,"strokeDash":[2,2]},"encoding":{"radius":{"field":"v","type":"quantitative","stack":null,"scale":{"type":"linear","domain":[0,20],"range":[0,165],"zero":true,"nice":false}}}},
{"data":{"name":"dirs"},"mark":{"type":"arc","filled":false,"stroke":"#aaaaaa","strokeWidth":0.7,"strokeDash":[2,2]},"encoding":{"theta":{"field":"a","type":"quantitative","stack":null,"scale":{"type":"linear","domain":[0,360],"range":[0,6.283185307179586],"zero":true,"nice":false}},"theta2":{"field":"a"},"radius":{"datum":20,"type":"quantitative","scale":{"type":"linear","domain":[0,20],"range":[0,165],"zero":true,"nice":false}}}},
{"data":{"name":"kamyaran"},"transform":[{"stack":"p","groupby":["d"],"sort":[{"field":"lo","order":"ascending"}],"as":["r0","r1"]}],"mark":{"type":"arc","thetaOffset":-0.3927,"theta2Offset":0.3927},"encoding":{"theta":{"field":"d","type":"quantitative","stack":null,"scale":{"type":"linear","domain":[0,360],"range":[0,6.283185307179586],"zero":true,"nice":false}},"theta2":{"field":"d"},"radius":{"field":"r1","type":"quantitative","stack":null,"scale":{"type":"linear","domain":[0,20],"range":[0,165],"zero":true,"nice":false}},"radius2":{"field":"r0"},"color":{"field":"sp","type":"nominal","scale":{"domain":[">21","17-21","11-16","7-10","4-6","1-3"],"range":["#ff0000","#ff00ff","#ffc800","#ffff00","#00ffff","#009e00"]},"legend":{"title":"Wind speed [kt]","orient":"none","legendX":5,"legendY":1,"symbolType":"square","symbolSize":289,"symbolStrokeWidth":0,"symbolOpacity":1,"rowPadding":0,"labelFont":"DejaVu Sans","labelFontSize":7.5,"labelColor":"#222222","labelOffset":2,"titleFont":"DejaVu Sans","titleFontSize":6.5,"titleFontWeight":"normal","titleColor":"#222222","titlePadding":5}}}},
{"data":{"values":[{}]},"mark":{"type":"arc","theta":0,"theta2":6.2832,"filled":false,"stroke":"#999999","strokeWidth":1},"encoding":{"radius":{"datum":20,"type":"quantitative","scale":{"type":"linear","domain":[0,20],"range":[0,165],"zero":true,"nice":false}}}},
{"data":{"name":"dirs"},"mark":{"type":"text","font":"DejaVu Sans","fontSize":6.5,"color":"#333333"},"encoding":{"theta":{"field":"a","type":"quantitative","stack":null,"scale":{"type":"linear","domain":[0,360],"range":[0,6.283185307179586],"zero":true,"nice":false}},"radius":{"datum":21.1,"type":"quantitative","scale":{"type":"linear","domain":[0,20],"range":[0,165],"zero":true,"nice":false}},"text":{"field":"lab","type":"nominal"}}},
{"data":{"name":"rings"},"transform":[{"filter":"datum.v <= 20"}],"mark":{"type":"text","font":"DejaVu Sans","fontSize":7,"dy":-8,"color":"#222222"},"encoding":{"theta":{"datum":135,"type":"quantitative","scale":{"type":"linear","domain":[0,360],"range":[0,6.283185307179586],"zero":true,"nice":false}},"radius":{"field":"v","type":"quantitative","stack":null,"scale":{"type":"linear","domain":[0,20],"range":[0,165],"zero":true,"nice":false}},"text":{"field":"t","type":"nominal"}}},
{"data":{"values":[{}]},"mark":{"type":"text","text":"Data source: SYNOP\nSectors: 8\nObs.count: 136\nCalm wind: 8.8 %","lineBreak":"\n","align":"left","baseline":"top","font":"DejaVu Sans","fontSize":5.5,"lineHeight":6.7,"dx":-56,"dy":2,"color":"#222222"},"encoding":{"x":{"datum":1,"type":"quantitative","scale":{"domain":[0,1],"nice":false,"zero":false},"axis":{"orient":"bottom","offset":18,"domain":true,"domainColor":"#000000","domainWidth":1.5,"ticks":false,"labels":false,"grid":false,"title":"کامیاران","titleFont":"DejaVu Sans","titleFontSize":18,"titleFontWeight":"normal","titleColor":"#000000","titlePadding":12}},"y":{"datum":1,"type":"quantitative","scale":{"domain":[0,1],"nice":false,"zero":false},"axis":null}}},
{"data":{"values":[{}]},"mark":{"type":"text","text":"Kamyaran - 99425 (lat: 34°47'16.8\"N, lon: 46°53'38.4\"E, elev: 1404m)\n2023-08-23 - 2023-09-22, (dd <> 99)","lineBreak":"\n","align":"center","baseline":"top","font":"DejaVu Sans","fontSize":7,"lineHeight":9,"dy":-18,"color":"#222222"},"encoding":{"x":{"datum":0.5,"type":"quantitative","scale":{"domain":[0,1],"nice":false,"zero":false},"axis":{"orient":"top","offset":3,"domain":true,"domainColor":"#000000","domainWidth":1.5,"ticks":false,"labels":false,"grid":false,"title":null}},"y":{"datum":0,"type":"quantitative"}}}
]}
]
}
